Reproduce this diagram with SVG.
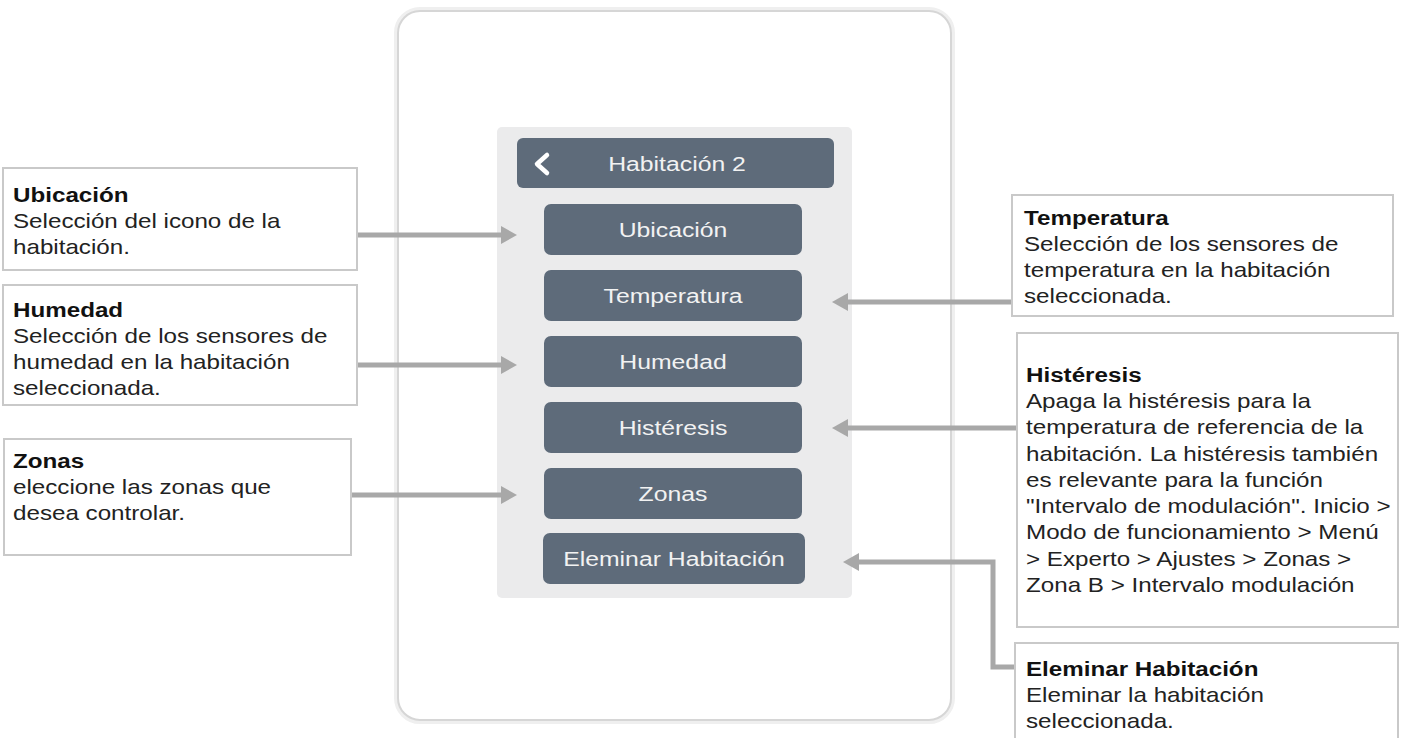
<svg xmlns="http://www.w3.org/2000/svg" width="1411" height="738" viewBox="0 0 1411 738">
<style>
.box{fill:#ffffff;stroke:#c9c9c9;stroke-width:2}
.btn{fill:#5e6b7a}
.lbl{font-family:"Liberation Sans",Arial,sans-serif;font-size:21px;fill:#f2f2f2;text-anchor:middle}
.ttl{font-family:"Liberation Sans",Arial,sans-serif;font-size:20.5px;font-weight:bold;fill:#111}
.bdy{font-family:"Liberation Sans",Arial,sans-serif;font-size:20.5px;fill:#222}
.con{fill:none;stroke:#a8a8a8;stroke-width:5}
</style>
<defs>
<marker id="ah" viewBox="0 0 16 18" refX="0" refY="9" markerWidth="16" markerHeight="18" markerUnits="userSpaceOnUse" orient="auto">
<path d="M0,0 L16,9 L0,18 z" fill="#a8a8a8"/>
</marker>
</defs>
<rect width="1411" height="738" fill="#ffffff"/>
<g id="device">
<rect x="397" y="10" width="555" height="711" rx="23" fill="none" stroke="#efefef" stroke-width="6"/>
<rect x="398" y="11" width="553" height="709" rx="22" fill="#ffffff" stroke="#d6d6d6" stroke-width="2"/>
<rect x="497" y="127" width="355" height="471" rx="5" fill="#ebebec"/>
</g>
<g id="header">
<rect class="btn" x="517" y="138" width="317" height="50" rx="6"/>
<polyline points="547,155 537,164 547,173" fill="none" stroke="#ffffff" stroke-width="4.5" stroke-linecap="round" stroke-linejoin="round"/>
<text class="lbl" transform="translate(677 171) scale(1.18 1)">Habitación 2</text>
</g>
<g id="btn-ubicacion">
<rect class="btn" x="544" y="204" width="258" height="51" rx="7"/>
<text class="lbl" transform="translate(673 237) scale(1.18 1)">Ubicación</text>
</g>
<g id="btn-temperatura">
<rect class="btn" x="544" y="270" width="258" height="51" rx="7"/>
<text class="lbl" transform="translate(673 303) scale(1.18 1)">Temperatura</text>
</g>
<g id="btn-humedad">
<rect class="btn" x="544" y="336" width="258" height="51" rx="7"/>
<text class="lbl" transform="translate(673 369) scale(1.18 1)">Humedad</text>
</g>
<g id="btn-histeresis">
<rect class="btn" x="544" y="402" width="258" height="51" rx="7"/>
<text class="lbl" transform="translate(673 435) scale(1.18 1)">Histéresis</text>
</g>
<g id="btn-zonas">
<rect class="btn" x="544" y="468" width="258" height="51" rx="7"/>
<text class="lbl" transform="translate(673 501) scale(1.18 1)">Zonas</text>
</g>
<g id="btn-eliminar">
<rect class="btn" x="543" y="533" width="262" height="51" rx="7"/>
<text class="lbl" transform="translate(674 566) scale(1.18 1)">Eleminar Habitación</text>
</g>
<g id="connectors">
<line class="con" x1="357" y1="235" x2="501" y2="235" marker-end="url(#ah)"/>
<line class="con" x1="357" y1="365" x2="501" y2="365" marker-end="url(#ah)"/>
<line class="con" x1="351" y1="495" x2="501" y2="495" marker-end="url(#ah)"/>
<line class="con" x1="1012" y1="302" x2="848" y2="302" marker-end="url(#ah)"/>
<line class="con" x1="1017" y1="428" x2="848" y2="428" marker-end="url(#ah)"/>
<polyline class="con" points="1015,667 993,667 993,562 859,562" marker-end="url(#ah)"/>
</g>
<g id="note-ubicacion">
<rect class="box" x="3" y="168" width="354" height="102"/>
<text class="ttl" transform="translate(13 202) scale(1.18 1)">Ubicación</text>
<text class="bdy" transform="translate(13 228) scale(1.18 1)"><tspan x="0" y="0">Selección del icono de la</tspan><tspan x="0" y="26">habitación.</tspan></text>
</g>
<g id="note-humedad">
<rect class="box" x="3" y="285" width="354" height="120"/>
<text class="ttl" transform="translate(13 317) scale(1.18 1)">Humedad</text>
<text class="bdy" transform="translate(13 343) scale(1.18 1)"><tspan x="0" y="0">Selección de los sensores de</tspan><tspan x="0" y="26">humedad en la habitación</tspan><tspan x="0" y="52">seleccionada.</tspan></text>
</g>
<g id="note-zonas">
<rect class="box" x="4" y="439" width="347" height="116"/>
<text class="ttl" transform="translate(13 468) scale(1.18 1)">Zonas</text>
<text class="bdy" transform="translate(13 494) scale(1.18 1)"><tspan x="0" y="0">eleccione las zonas que</tspan><tspan x="0" y="26">desea controlar.</tspan></text>
</g>
<g id="note-temperatura">
<rect class="box" x="1012" y="195" width="381" height="121"/>
<text class="ttl" transform="translate(1024 225) scale(1.18 1)">Temperatura</text>
<text class="bdy" transform="translate(1024 251) scale(1.18 1)"><tspan x="0" y="0">Selección de los sensores de</tspan><tspan x="0" y="26">temperatura en la habitación</tspan><tspan x="0" y="52">seleccionada.</tspan></text>
</g>
<g id="note-histeresis">
<rect class="box" x="1017" y="333" width="381" height="294"/>
<text class="ttl" transform="translate(1026 382) scale(1.18 1)">Histéresis</text>
<text class="bdy" transform="translate(1026 408) scale(1.18 1)"><tspan x="0" y="0">Apaga la histéresis para la</tspan><tspan x="0" y="26.3">temperatura de referencia de la</tspan><tspan x="0" y="52.6">habitación. La histéresis también</tspan><tspan x="0" y="78.9">es relevante para la función</tspan><tspan x="0" y="105.2">"Intervalo de modulación". Inicio &gt;</tspan><tspan x="0" y="131.5">Modo de funcionamiento &gt; Menú</tspan><tspan x="0" y="157.8">&gt; Experto &gt; Ajustes &gt; Zonas &gt;</tspan><tspan x="0" y="184.1">Zona B &gt; Intervalo modulación</tspan></text>
</g>
<g id="note-eliminar">
<rect class="box" x="1015" y="643" width="383" height="110"/>
<text class="ttl" transform="translate(1026 676) scale(1.18 1)">Eleminar Habitación</text>
<text class="bdy" transform="translate(1026 702) scale(1.18 1)"><tspan x="0" y="0">Eleminar la habitación</tspan><tspan x="0" y="26">seleccionada.</tspan></text>
</g>
</svg>
